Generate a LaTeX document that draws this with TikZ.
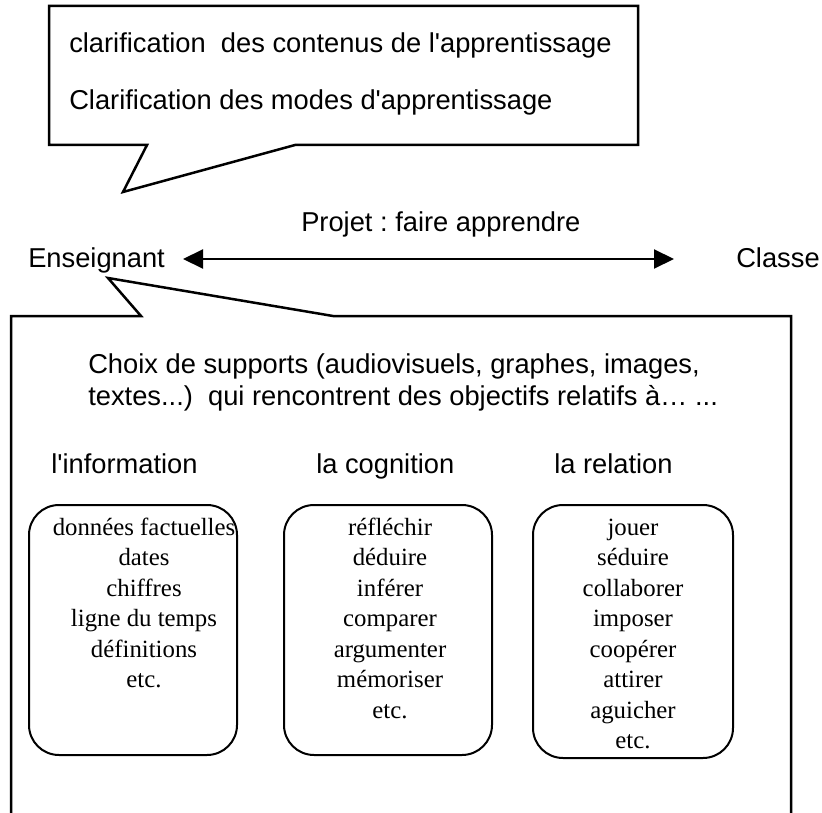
\documentclass[tikz,border=0pt]{standalone}
\usepackage{fontspec}
\setmainfont{Liberation Serif}
\newfontfamily\arialfont{Liberation Sans}
\usetikzlibrary{arrows.meta}
\frenchspacing

\begin{document}
\begin{tikzpicture}[line width=2.5pt,x=1pt,y=-1pt,inner sep=0pt,
  sans/.style={font=\arialfont\fontsize{27.3}{32}\selectfont,anchor=base west},
  serif/.style={font=\fontsize{24.8}{30.5}\selectfont,align=center,anchor=base}]
		\useasboundingbox (0,0) rectangle (822,813);
		\draw (49,6) -- (638,6) -- (638,145) -- (295,145) -- (123,192) -- (147,145) -- (49,145) -- cycle;
		\draw (11,813) -- (11,316) -- (141,316) -- (108,278) -- (333,316) -- (791,316) -- (791,813);
		
		\node[sans] (contenus) at (68,53) {clarification\ \ des contenus de l\textquotesingle apprentissage};
		\node[sans] (modes) at (68,110) {Clarification des modes d\textquotesingle apprentissage};
		\node[sans] (projet) at (300,232) {Projet : faire apprendre};
		\node[sans] (enseignant) at (27,267) {Enseignant};
		\node[sans] (classe) at (735,268) {Classe};
		\coordinate (fleche-g) at (183,259);
		\coordinate (fleche-d) at (674,259);
		\draw[{Triangle[length=20pt,width=19pt]}-{Triangle[length=20pt,width=19pt]},line width=2pt] (fleche-g) -- (fleche-d);
		
		% ancre base = derniere ligne
		\node[sans,align=left] (choix) at (87,405) {Choix de supports (audiovisuels, graphes, images,\\textes...)\ \ qui rencontrent des objectifs relatifs à… ...};
		\node[sans] (information) at (50,473) {l\textquotesingle information};
		\node[sans] (cognition) at (315,473) {la cognition};
		\node[sans] (relation) at (553,473) {la relation};
		
		\draw[line width=2pt,rounded corners=30pt] (29,505) rectangle (237,755);
		\draw[line width=2pt,rounded corners=30pt] (284,505) rectangle (492,755);
		\draw[line width=2pt,rounded corners=30pt] (533,505) rectangle (733,758);
		\node[serif] (infos) at (144,687.5) {données factuelles\\dates\\chiffres\\ligne du temps\\définitions\\etc.};
		\node[serif] (cognitifs) at (390,718) {réfléchir\\déduire\\inférer\\comparer\\argumenter\\mémoriser\\etc.};
		\node[serif] (relationnels) at (633,748.5) {jouer\\séduire\\collaborer\\imposer\\coopérer\\attirer\\aguicher\\etc.};
	\end{tikzpicture}
\end{document}
